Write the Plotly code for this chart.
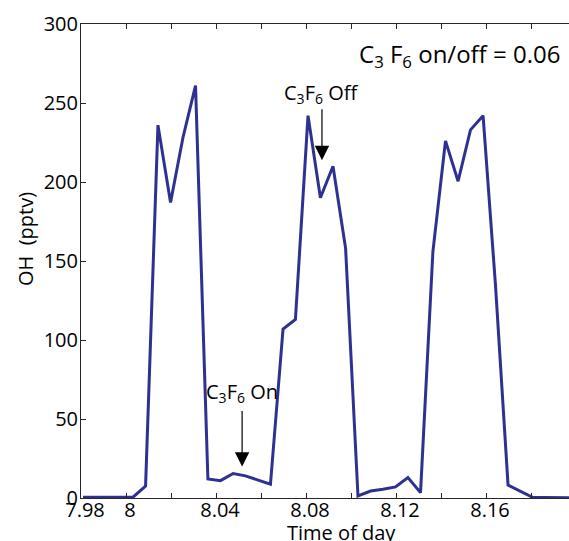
import plotly.graph_objects as go

# Data (time of day as fraction, OH in pptv)
time_of_day = [7.9809, 7.9864, 7.9920, 7.9976, 8.0031, 8.0087, 8.0142, 8.0198,
               8.0253, 8.0309, 8.0364, 8.0420, 8.0476, 8.0531, 8.0587, 8.0642,
               8.0698, 8.0753, 8.0809, 8.0864, 8.0920, 8.0976, 8.1031, 8.1087,
               8.1142, 8.1198, 8.1253, 8.1309, 8.1364, 8.1420, 8.1476, 8.1531,
               8.1587, 8.1642, 8.1698, 8.1753, 8.1809, 8.1864, 8.1920, 8.1976]
oh_pptv = [0.4, 0.4, 0.4, 0.4, 0.5, 7.5, 236, 187,
           228, 261, 12, 11, 15.5, 14, 11.5, 8.7,
           107, 113, 242, 190, 210, 158, 1.3, 4.4,
           5.5, 7, 13, 3.4, 156, 226, 200.5, 233,
           242, 135, 8.2, 4.4, 0.3, 0.3, 0.1, 0.1]

x_tickvals = [7.98, 8.00, 8.02, 8.04, 8.06, 8.08, 8.10, 8.12, 8.14, 8.16, 8.18]
x_ticktext = ["7.98", "8", "", "8.04", "", "8.08", "", "8.12", "", "8.16", ""]
y_tickvals = [0, 50, 100, 150, 200, 250, 300]

# Annotation positions (data coordinates)
off_label = {"x": 8.0871, "tip": 213.8, "tail": 247, "text_y": 256}
on_label = {"x": 8.0516, "tip": 19.9, "tail": 56, "text_y": 67}

FONT = "Open Sans"
AX = "#262626"
LINE = "#2E3192"

fig = go.Figure()
fig.add_trace(go.Scatter(x=time_of_day, y=oh_pptv, mode="lines",
                         line=dict(color=LINE, width=3), showlegend=False,
                         hoverinfo="skip"))

W, H = 569, 541
L, R, T, B = 81, 0, 23.5, 42.5
fig.update_layout(
    width=W, height=H,
    margin=dict(l=L, r=R, t=T, b=B, autoexpand=False),
    paper_bgcolor="white", plot_bgcolor="white",
    font=dict(family=FONT, size=20, color="black"),
    xaxis=dict(range=[7.98, 7.98 + 488 / 2250], tickvals=x_tickvals,
               ticktext=x_ticktext, ticks="inside", ticklen=5, tickcolor=AX,
               showline=True, linecolor=AX, linewidth=1, mirror="ticks",
               showgrid=False, zeroline=False, tickfont=dict(size=20),
               ticklabelshift=4, ticklabelstandoff=-6, automargin=False),
    yaxis=dict(range=[0, 300], tickvals=y_tickvals, ticks="inside", ticklen=5,
               tickcolor=AX, showline=True, linecolor=AX, linewidth=1,
               showgrid=False, zeroline=False, tickfont=dict(size=20),
               ticklabelstandoff=-2, automargin=False),
)

pw, ph = 569 - L, H - T - B


def px(xp):
    return (xp - L) / pw


def py(yp):
    return (H - B - yp) / ph


annotations = [
    dict(text="C<sub>3</sub> F<sub>6</sub> on/off = 0.06", xref="paper", yref="paper",
         x=px(562), y=py(55), xanchor="right", yanchor="middle", showarrow=False,
         font=dict(size=24)),
    dict(text="OH  (pptv)", xref="paper", yref="paper", x=px(25), y=py(239),
         textangle=-90, showarrow=False, xanchor="center", yanchor="middle",
         font=dict(size=20)),
    dict(text="Time of day", xref="paper", yref="paper", x=px(341), y=py(533),
         showarrow=False, xanchor="center", yanchor="middle", font=dict(size=20)),
    dict(text="C<sub>3</sub>F<sub>6</sub> Off", xref="x", yref="y",
         x=off_label["x"], y=off_label["text_y"], showarrow=False,
         xanchor="center", yanchor="middle", font=dict(size=20)),
    dict(text="C<sub>3</sub>F<sub>6</sub> On", xref="x", yref="y",
         x=on_label["x"], y=on_label["text_y"], showarrow=False,
         xanchor="center", yanchor="middle", font=dict(size=20)),
]
for lab in (off_label, on_label):
    annotations.append(dict(text="", xref="x", yref="y", axref="x", ayref="y",
                            x=lab["x"], y=lab["tip"], ax=lab["x"], ay=lab["tail"],
                            showarrow=True, arrowhead=2, arrowsize=2.4,
                            arrowwidth=1.2, arrowcolor="black"))
fig.update_layout(annotations=annotations)

fig.write_html("out.html", config={"displayModeBar": False},
               post_script="document.body.style.margin='0px';")
